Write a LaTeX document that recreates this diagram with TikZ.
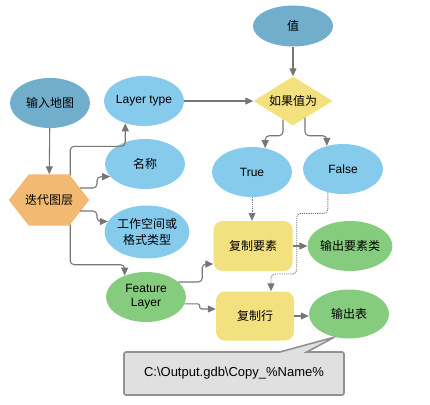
\documentclass[tikz,border=0pt]{standalone}
\usepackage{fontspec}
\setmainfont{Liberation Sans}
\newfontfamily\cjk{Noto Sans CJK SC}
\usetikzlibrary{shapes.geometric, shapes.callouts, arrows.meta, calc, backgrounds}

\definecolor{varblue}{RGB}{112,174,203}
\definecolor{parblue}{RGB}{134,202,236}
\definecolor{tooly}{RGB}{243,224,126}
\definecolor{iterorange}{RGB}{242,185,114}
\definecolor{outgreen}{RGB}{134,204,126}
\definecolor{notegray}{RGB}{224,224,224}
\definecolor{linegray}{RGB}{118,118,118}

\tikzset{
  base/.style={inner sep=0pt, align=center, font=\fontsize{12pt}{14pt}\selectfont},
  var/.style={base, ellipse, fill=varblue, minimum width=80pt, minimum height=41pt},
  param/.style={base, ellipse, fill=parblue, minimum width=80pt, minimum height=50pt},
  result/.style={base, ellipse, fill=outgreen, minimum width=80pt, minimum height=50pt},
  tool/.style={base, rectangle, rounded corners=9pt, fill=tooly, minimum width=79pt, minimum height=50pt},
  flow/.style={draw=linegray, line width=1.1pt, rounded corners=4pt, -{Triangle[length=8pt,width=7pt]}},
  maybe/.style={flow, line width=0.9pt, dash pattern=on 1.2pt off 1pt},
}

\begin{document}
\begin{tikzpicture}[x=1pt, y=-1pt]

    % picture frame
    \useasboundingbox (0,0) rectangle (430,404);

    % Draw the input variables
    \node[var] (val) at (293,26) {\cjk 值};
    \node[var, minimum height=50pt] (mapin) at (50,103) {\cjk 输入地图};

    % Draw the iterator (hexagon behind its text)
    \node[base, minimum width=80pt, minimum height=51pt] (iter) at (49,200) {\cjk 迭代图层};
    \begin{scope}[on background layer]
        \fill[iterorange] (iter.west) -- ($(iter.north west)+(20,0)$) -- ($(iter.north east)+(-20,0)$)
            -- (iter.east) -- ($(iter.south east)+(-20,0)$) -- ($(iter.south west)+(20,0)$) -- cycle;
    \end{scope}

    % Draw the iterator outputs
    \node[param] (ltype) at (144,101) {Layer type};
    \node[param] (name) at (145,164) {\cjk 名称};
    \node[param, minimum width=83pt, minimum height=53pt, font=\fontsize{12pt}{16.5pt}\selectfont]
          (wspace) at (147,232) {\cjk 工作空间或\\\cjk 格式类型};
    \node[result] (feat) at (146,297) {Feature\\Layer};

    % Draw the condition and its branches
    \node[base, diamond, aspect=1.6, fill=tooly, minimum width=79pt, minimum height=49pt]
          (cond) at (293,101) {\cjk 如果值为};
    \node[param] (true) at (252,172) {True};
    \node[param] (false) at (343,169) {False};

    % Draw the tools and their outputs
    \node[tool] (copyf) at (253,246) {\cjk 复制要素};
    \node[result] (outf) at (350,246) {\cjk 输出要素类};
    \node[tool, minimum width=78pt, minimum height=49pt] (copyr) at (255,316) {\cjk 复制行};
    \node[result, minimum height=49pt] (outt) at (349,314) {\cjk 输出表};

    % Note with the output path
    \node[base, rectangle callout, callout absolute pointer={(outt.238)}, callout pointer width=27pt,
          fill=notegray, draw=linegray!80, line width=1.6pt, rounded corners=2pt,
          minimum width=220pt, minimum height=43pt, font=\fontsize{13pt}{15pt}\selectfont]
          (outpath) at (234,373.5) {C:\textbackslash Output.gdb\textbackslash Copy\_\%Name\%};

    % connectors
    \draw[flow] (mapin) -- (iter);
    \draw[flow] ($(iter.north east)+(-19,1)$) -- ++(0,-29) -| (ltype.230);
    \draw[flow] ($(iter.center)+(31,-12)$) -- ++(17,0) |- (name.200);
    \draw[flow] ($(iter.center)+(31,11)$) -- ++(17,0) |- (wspace.165);
    \draw[flow] ($(iter.south east)+(-19,-1)$) -- ++(0,40) -| (feat.135);
    \draw[flow] (val) -- (cond);
    \draw[flow] (ltype) -- (cond);
    \draw[flow] ($(cond.south)+(-10,-6)$) -- ++(0,16) -| (true.61);
    \draw[flow] ($(cond.south)+(12,-8)$) -- ++(0,18) -| (false.125);
    \draw[maybe] (true) -- (true |- copyf.north);
    \draw[maybe] (false.237) -- ++(0,21) -| ($(copyf.east)+(4,28)$) -| ([xshift=16pt]copyr.north);
    \draw[flow] (feat.25) -- ++(24,0) |- ([yshift=-18pt]copyf.west);
    \draw[flow, rounded corners=2pt] (feat.-10) -- ++(15,0) |- ([yshift=7pt]copyr.west);
    \draw[flow] (copyf) -- (outf);
    \draw[flow] (copyr.east) -- (copyr.east -| outt.west);

\end{tikzpicture}
\end{document}
